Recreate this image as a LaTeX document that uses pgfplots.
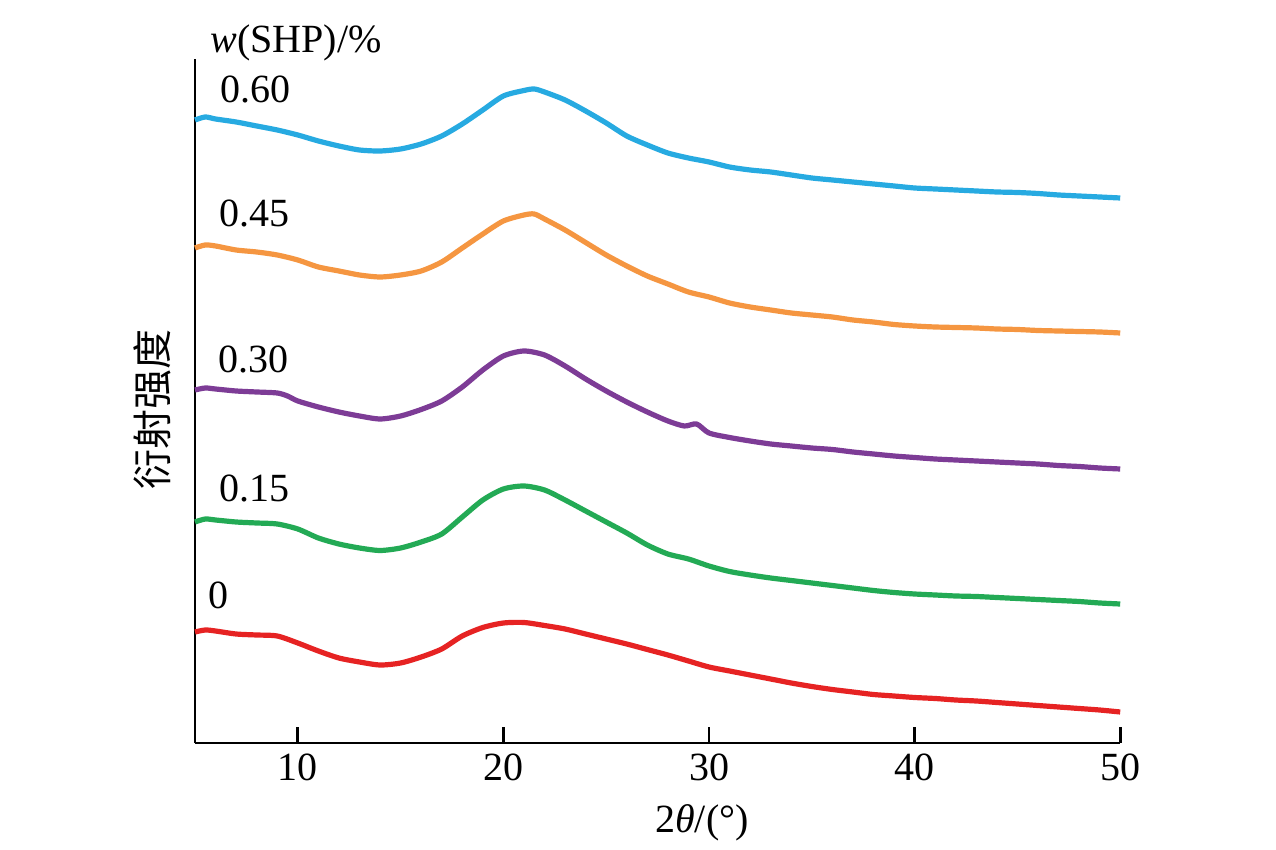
\documentclass[border=0pt]{standalone}
\usepackage{pgfplots}
\pgfplotsset{compat=1.18}
\usepackage{pgfplotstable}
\usepackage{fontspec}
\setmainfont{Liberation Serif}
\newfontfamily\cjk{Noto Sans CJK SC}
\definecolor{cCyan}{RGB}{39,170,225}
\definecolor{cOrange}{RGB}{245,150,65}
\definecolor{cPurple}{RGB}{125,60,150}
\definecolor{cGreen}{RGB}{35,170,85}
\definecolor{cRed}{RGB}{230,35,35}
% columns: 2theta, pixel row in the reference (intensity = 849 - row)
\pgfplotstableread{
5 120
5.5 117
6 119
7 122
8 126
9 130
10 135
11 141
12 146
13 150
14 151
15 149
16 144
17 136
18 124
19 110
20 96
21 90.5
21.5 89
22 92
23 100
24 111
25 123
26 136
27 145
28 153
29 158
30 162
31 167
32 170
33 172
34 175
35 178
36 180
37 182
38 184
39 186
40 188
41 189
42 190
43 191
44 192
45 192.5
46 193.5
47 195
48 196
49 197
50 198
}\tcyan
\pgfplotstableread{
5 248
5.5 245
6 246
7 250
8 252
9 255
10 260
11 267
12 271
13 275
14 277
15 275
16 271
17 262
18 248
19 234
20 221
21 215
21.5 214
22 219
23 230
24 242.5
25 255
26 266
27 276
28 284
29 292
30 297
31 303
32 307
33 310
34 313
35 315
36 317
37 320
38 322
39 324.5
40 326
41 327
42 327.5
43 328
44 329
45 329.5
46 330.5
47 331
48 331.5
49 332
50 333
}\torange
\pgfplotstableread{
5 390
5.5 388
6 389
7 391
8 392
9 393
9.5 396
10 401
11 407
12 412
13 416
14 419
15 416
16 409.5
17 401
18 387
19 370
20 356
21 351
22 355
23 366
24 379
25 391
26 402
27 412
28 421
28.8 426
29.4 424
30 433
31 437.5
32 441
33 444
34 446
35 448
36 449.5
37 452
38 454
39 456
40 457.5
41 459
42 460
43 461
44 462
45 463
46 464
47 465.5
48 466.5
49 468
50 469
}\tpurple
\pgfplotstableread{
5 522
5.5 519
6 520
7 522
8 523
9 524
10 529
11 538
12 544
13 548
14 550.5
15 548
16 542
17 534
18 517
19 500
20 489
21 486
22 490
23 500
24 511
25 522
26 533
27 545
28 554
29 559
30 566
31 571.5
32 575
33 578
34 580.5
35 583
36 585.5
37 588
38 590.5
39 592.5
40 594
41 595
42 596
43 596.5
44 597.5
45 598.5
46 599.5
47 600.5
48 601.5
49 603
50 604
}\tgreen
\pgfplotstableread{
5 632
5.5 630
6 631
7 634
8 635
9 636
10 643
11 651
12 658
13 662
14 665
15 663
16 657
17 649
18 636
19 627.5
20 623
21 622.5
22 625.5
23 629
24 634
25 639
26 644
27 649.5
28 655
29 661
30 667
31 671
32 675
33 679
34 683
35 686.5
36 689.5
37 692
38 694.5
39 696
40 697.5
41 698.5
42 700
43 701
44 702.5
45 704
46 705.5
47 707
48 708.5
49 710
50 712
}\tred
\begin{document}
\begin{tikzpicture}
\begin{axis}[
  x=10.28pt, y=0.5pt,
  xmin=5, xmax=50, ymin=106, ymax=790,
  axis x line*=bottom, axis y line*=left,
  axis line style={-, line width=1.1pt, black},
  xtick={10,20,30,40,50}, ytick=\empty,
  xtick align=inside,
  major tick length=8pt,
  major tick style={line width=1.3pt, black},
  /pgf/number format/assume math mode=true,
  tick label style={font=\fontsize{20}{24}\selectfont},
  xticklabel style={yshift=-2pt},
  clip=false,
  every axis plot/.append style={line width=2.6pt, line join=round, smooth, tension=0.45},
]
\path (axis cs:-4.484,0) rectangle (axis cs:57.578,849);
\addplot[cCyan, no marks] table[x index=0, y expr=849-\thisrowno{1}] {\tcyan};
\addplot[cOrange, no marks] table[x index=0, y expr=849-\thisrowno{1}] {\torange};
\addplot[cPurple, no marks] table[x index=0, y expr=849-\thisrowno{1}] {\tpurple};
\addplot[cGreen, no marks] table[x index=0, y expr=849-\thisrowno{1}] {\tgreen};
\addplot[cRed, no marks] table[x index=0, y expr=849-\thisrowno{1}] {\tred};
\begin{scope}[every node/.style={font=\fontsize{20}{24}\selectfont, inner sep=0pt}]
\node[anchor=base west] at (axis cs:6.216,746) {0.60};
\node[anchor=base west] at (axis cs:6.17,622) {0.45};
\node[anchor=base west] at (axis cs:6.12,476) {0.30};
\node[anchor=base west] at (axis cs:6.17,347) {0.15};
\node[anchor=base west] at (axis cs:5.63,240) {0};
\node[anchor=base west] at (axis cs:5.73,796) {\textit{w}(SHP)/\%};
\node[anchor=base] at (axis cs:29.66,17) {2\textit{θ}/(°)};
\node[rotate=90, anchor=center] at (axis cs:2.91,439) {\cjk 衍射强度};
\end{scope}
\end{axis}
\draw[line width=1.3pt, black] (3.0pt,0pt) -- (3.0pt,0pt);
\end{tikzpicture}
\end{document}
